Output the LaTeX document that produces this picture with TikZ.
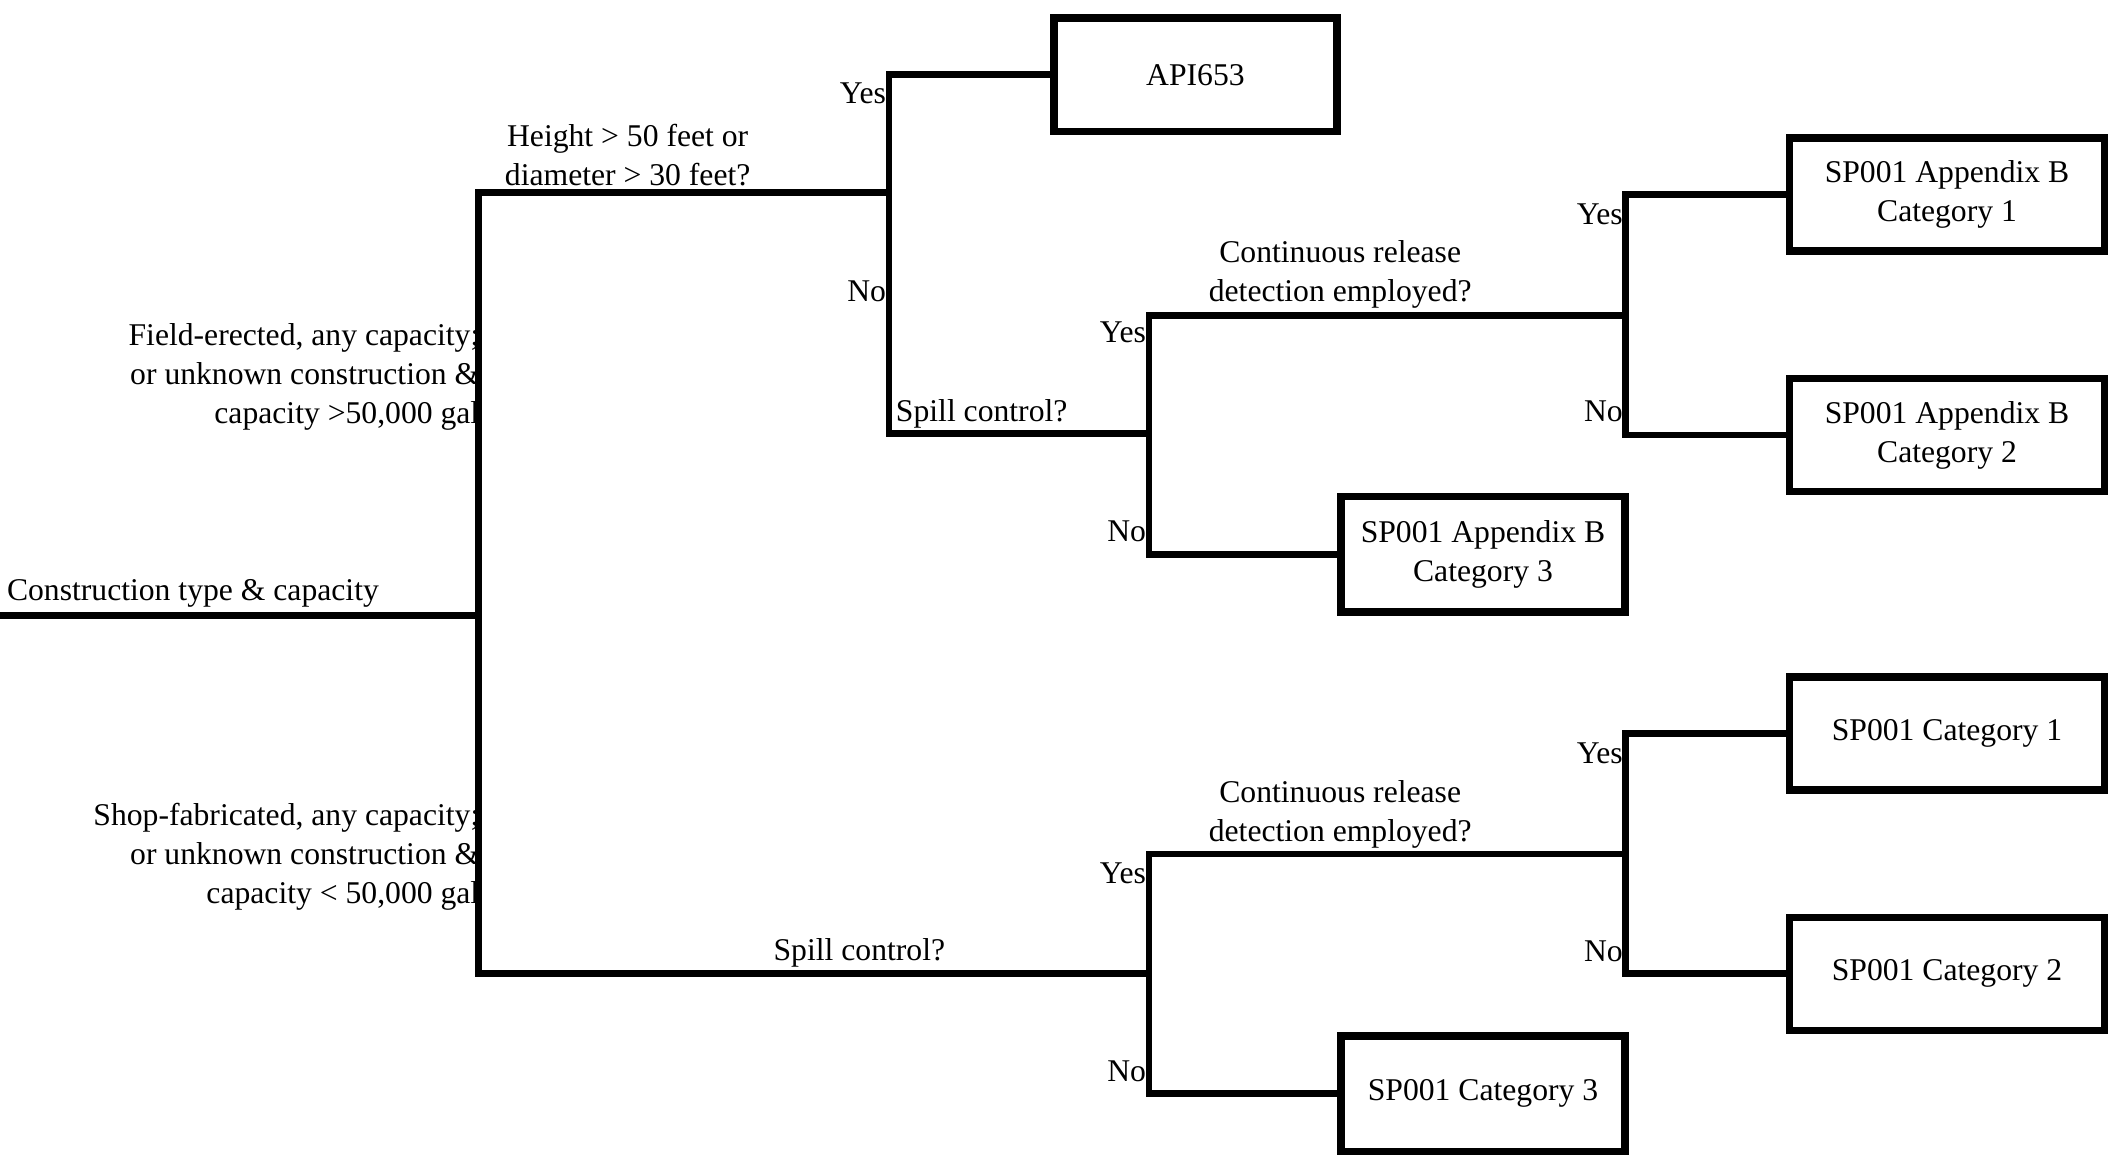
\documentclass[tikz,border=0pt]{standalone}
\usepackage{fontspec}
\setmainfont{Liberation Serif}
\newcommand{\lblfont}{\fontsize{23.5}{29}\selectfont}
\begin{document}
\begin{tikzpicture}[x=1pt,y=-1pt,
  tree/.style={line width=5pt, line cap=rect, line join=miter},
  leaf/.style={draw, line width=5.5pt, inner sep=0pt, align=center, font=\lblfont},
  leafwide/.style={leaf, minimum width=234pt, minimum height=84pt},
  leafmid/.style={leaf, minimum width=211pt, minimum height=86pt},
  lbl/.style={inner sep=0pt, font=\lblfont}]
\useasboundingbox[fill=white] (0,0) rectangle (1568,858);

% leaf boxes
\node[leaf, minimum width=210pt, minimum height=84pt] (api) at (887.5,55.5) {API653};
\node[leafwide] (ba1) at (1445.5,144.5) {SP001 Appendix B\\Category 1};
\node[leafwide] (ba2) at (1445.5,323) {SP001 Appendix B\\Category 2};
\node[leafmid] (ba3) at (1101,411.5) {SP001 Appendix B\\Category 3};
\node[leafwide] (b1) at (1445.5,544.5) {SP001 Category 1};
\node[leafwide] (b2) at (1445.5,723) {SP001 Category 2};
\node[leafmid] (b3) at (1101,812) {SP001 Category 3};

% junctions
\coordinate (s) at (0,457);
\coordinate (t) at (355,457);
\coordinate (h) at (660,143);
\coordinate (sc1) at (853,322);
\coordinate (cr1) at (1207,234);
\coordinate (sc2) at (853,723);
\coordinate (cr2) at (1207,634);

% connectors
\draw[tree] (s) -- (t);
\draw[tree] (t) |- (h);
\draw[tree] (t) |- (sc2);
\draw[tree] (h) |- (api.west);
\draw[tree] (h) |- (sc1);
\draw[tree] (sc1) |- (cr1);
\draw[tree] (sc1) |- (ba3.west);
\draw[tree] (cr1) |- (ba1.west);
\draw[tree] (cr1) |- (ba2.west);
\draw[tree] (sc2) |- (cr2);
\draw[tree] (sc2) |- (b3.west);
\draw[tree] (cr2) |- (b1.west);
\draw[tree] (cr2) |- (b2.west);

% labels
\node[lbl, anchor=base west] (lroot) at (5,446) {Construction type \& capacity};
\node[lbl, anchor=east, align=right] (lfield) at (356,280) {Field-erected, any capacity;\\or unknown construction \&\\capacity >50,000 gal};
\node[lbl, anchor=east, align=right] (lshop) at (356,636) {Shop-fabricated, any capacity;\\or unknown construction \&\\capacity < 50,000 gal};
\node[lbl, align=center] (lheight) at (466,115) {Height > 50 feet or\\diameter > 30 feet?};
\node[lbl, align=center] (lcr1) at (995,204) {Continuous release\\detection employed?};
\node[lbl, align=center] (lcr2) at (995,605) {Continuous release\\detection employed?};
\node[lbl, anchor=base west] (lsc1) at (665,313) {Spill control?};
\node[lbl, anchor=base] (lsc2) at (638,713) {Spill control?};

\node[lbl, anchor=base east] (y1) at (658,77) {Yes};
\node[lbl, anchor=base east] (n1) at (658,224) {No};
\node[lbl, anchor=base east] (y2) at (851,254) {Yes};
\node[lbl, anchor=base east] (n2) at (851,402) {No};
\node[lbl, anchor=base east] (y3) at (1205,167) {Yes};
\node[lbl, anchor=base east] (n3) at (1205,313) {No};
\node[lbl, anchor=base east] (y4) at (851,656) {Yes};
\node[lbl, anchor=base east] (n4) at (851,803) {No};
\node[lbl, anchor=base east] (y5) at (1205,567) {Yes};
\node[lbl, anchor=base east] (n5) at (1205,714) {No};
\end{tikzpicture}
\end{document}
